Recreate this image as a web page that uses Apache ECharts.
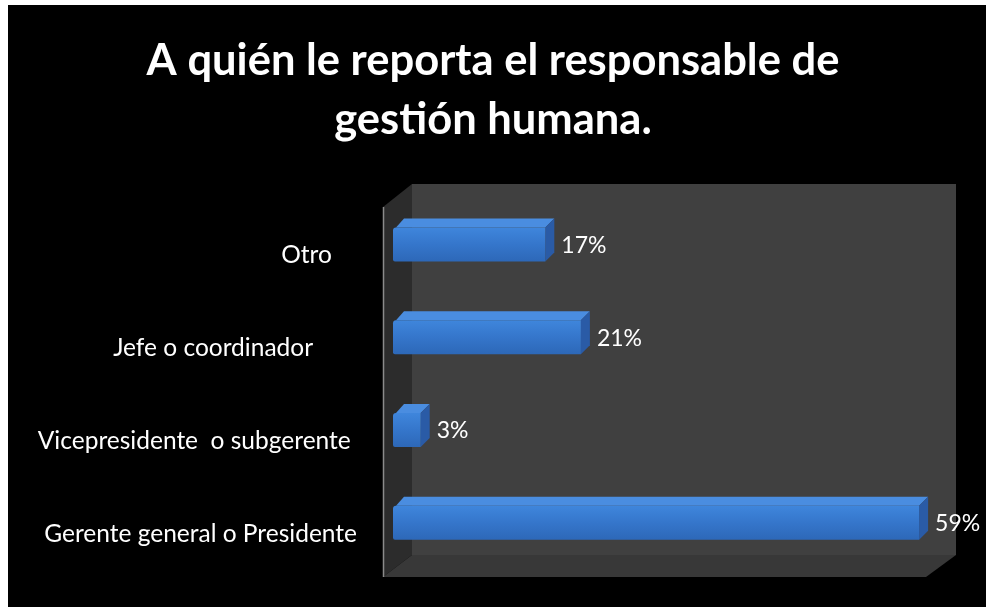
<!DOCTYPE html>
<html><head><meta charset="utf-8">
<script src="https://cdn.jsdelivr.net/npm/echarts@6/dist/echarts.min.js"></script>
<style>html,body{margin:0;padding:0;background:#fff}#c{width:986px;height:607px}</style>
</head><body><div id="c"></div>
<script>
const titleText = 'A quién le reporta el responsable de\ngestión humana.';
const categories = ['Gerente general o Presidente', 'Vicepresidente  o subgerente ', 'Jefe o coordinador       ', 'Otro    '];
const values = [59, 3, 21, 17];
const axisMax = 60;

const chart = echarts.init(document.getElementById('c'), null, {renderer: 'canvas'});
const FONT = 'Lato, "Open Sans", sans-serif';

function renderBar(params, api) {
  const v = api.value(0), c = api.value(1);
  const p0 = api.coord([0, c]);
  const p1 = api.coord([v, c]);
  const h = 34, dx = 9, dy = 9;
  const x0 = p0[0] - 1, x1 = p1[0];
  const yt = p0[1] - h / 2, yb = yt + h;
  return {
    type: 'group',
    children: [
      {type: 'polygon', shape: {points: [[x0 + 3, yt], [x0 + dx + 2, yt - dy], [x1 + dx, yt - dy], [x1, yt]]},
        style: {fill: '#4a8de0'}},
      {type: 'polygon', shape: {points: [[x1, yt], [x1 + dx, yt - dy], [x1 + dx, yb - dy], [x1, yb]]},
        style: {fill: '#2a5ba6'}},
      {type: 'rect', shape: {x: x0, y: yt, width: x1 - x0, height: h, r: [3, 0, 0, 2]},
        style: {fill: new echarts.graphic.LinearGradient(0, 0, 0, 1, [
          {offset: 0, color: '#3f86dc'}, {offset: 0.5, color: '#3576cb'}, {offset: 1, color: '#2d68b8'}])}},
      {type: 'text', style: {text: v + '%', x: x1 + 16, y: p0[1] + 1, verticalAlign: 'middle', align: 'left',
        fill: '#ffffff', font: '23px ' + FONT}}
    ]
  };
}

chart.setOption({
  backgroundColor: '#ffffff',
  animation: false,
  graphic: [
    {type: 'rect', z: -10, shape: {x: 8, y: 5, width: 978, height: 602}, style: {fill: '#000'}},
    {type: 'rect', z: -9, shape: {x: 412, y: 184, width: 544, height: 371}, style: {fill: '#404040'}},
    {type: 'polygon', z: -9, shape: {points: [[383, 207], [412, 184], [412, 555], [383, 577]]}, style: {fill: '#2c2c2c'}},
    {type: 'polygon', z: -9, shape: {points: [[383, 577], [412, 555], [956, 555], [926, 577]]}, style: {fill: '#383838'}},
    {type: 'line', z: -8, shape: {x1: 383.5, y1: 207, x2: 383.5, y2: 577}, style: {stroke: '#8a8a8a', lineWidth: 1.5}}
  ],
  title: {
    text: titleText, left: 488, textAlign: 'center', top: 26,
    textStyle: {color: '#fff', fontSize: 43.5, fontWeight: 'bold', fontFamily: FONT, lineHeight: 59}
  },
  grid: {left: 394, right: 58, top: 198, bottom: 38, containLabel: false},
  xAxis: {type: 'value', min: 0, max: axisMax, show: false},
  yAxis: {
    type: 'category', data: categories,
    axisLine: {show: false}, axisTick: {show: false}, splitLine: {show: false},
    axisLabel: {color: '#fff', fontSize: 24.5, fontFamily: FONT, margin: 37, verticalAlign: 'top', lineHeight: 22}
  },
  series: [{
    type: 'custom', renderItem: renderBar,
    encode: {x: 0, y: 1},
    data: values.map((v, i) => [v, i])
  }]
});
</script></body></html>
